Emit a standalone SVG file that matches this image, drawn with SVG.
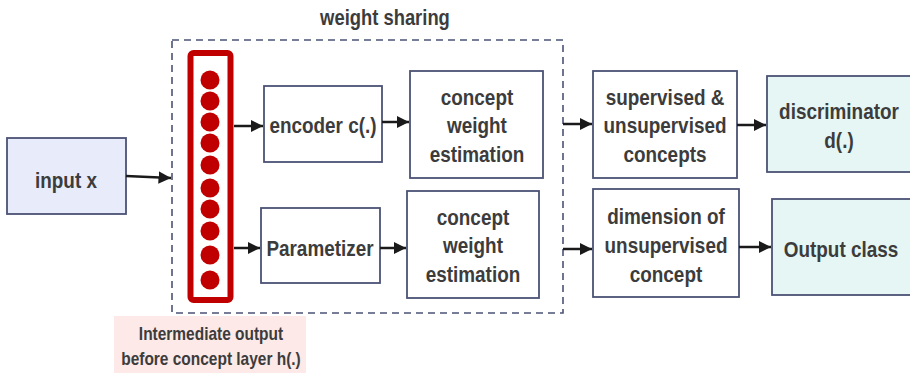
<svg xmlns="http://www.w3.org/2000/svg" width="910" height="373" viewBox="0 0 910 373">
<defs>
<marker id="ah" viewBox="0 0 10 10" refX="10" refY="5" markerWidth="5" markerHeight="5" markerUnits="strokeWidth" orient="auto">
<path d="M0,0 L10,5 L0,10 z" fill="#1a1a1a"/>
</marker>
<style>
.box{fill:#ffffff;stroke:#4b5275;stroke-width:1.8}
.blue{fill:#e8ebfa}
.cyan{fill:#e6f6f4}
.t{font-family:"Liberation Sans",Arial,sans-serif;font-weight:bold;font-size:22px;fill:#3c3c3c;text-anchor:middle}
.s{font-size:18px}
.conn line{stroke:#1a1a1a;stroke-width:2.5;marker-end:url(#ah)}
</style>
</defs>
<rect width="910" height="373" fill="#ffffff"/>

<g id="weight-sharing">
<rect x="172" y="40" width="391" height="273" fill="none" stroke="#4b5275" stroke-width="1.6" stroke-dasharray="7,5"/>
<text class="t" transform="scale(0.86 1)" x="447.67" y="25" style="font-size:21.4px">weight sharing</text>
</g>

<g id="input">
<rect class="box blue" x="7" y="138" width="119" height="76"/>
<text class="t" transform="scale(0.86 1)" x="76.74" y="188">input x</text>
</g>

<g id="hidden">
<rect x="190.5" y="53" width="40" height="247" rx="3" fill="#ffffff" stroke="#c00000" stroke-width="6"/>
<g fill="#c00000">
<circle cx="210" cy="80" r="9.5"/>
<circle cx="210" cy="101" r="9.5"/>
<circle cx="210" cy="122" r="9.5"/>
<circle cx="210" cy="143" r="9.5"/>
<circle cx="210" cy="165" r="9.5"/>
<circle cx="210" cy="188" r="9.5"/>
<circle cx="210" cy="209" r="9.5"/>
<circle cx="210" cy="231" r="9.5"/>
<circle cx="210" cy="255" r="9.5"/>
<circle cx="210" cy="280" r="9.5"/>
</g>
</g>

<g id="label-h">
<rect x="114" y="316" width="192" height="57" fill="#fde9e8"/>
<text class="t s" transform="scale(0.86 1)" x="245.35" y="340">Intermediate output</text>
<text class="t s" transform="scale(0.86 1)" x="245.35" y="365">before concept layer h(.)</text>
</g>

<g id="encoder">
<rect class="box" x="264" y="86" width="118" height="76"/>
<text class="t" transform="scale(0.86 1)" x="375.58" y="133">encoder c(.)</text>
</g>

<g id="concept-top">
<rect class="box" x="410" y="71" width="133" height="107"/>
<text class="t" transform="scale(0.86 1)" x="554.65" y="105">concept</text>
<text class="t" transform="scale(0.86 1)" x="554.65" y="133">weight</text>
<text class="t" transform="scale(0.86 1)" x="554.65" y="162">estimation</text>
</g>

<g id="parametizer">
<rect class="box" x="261" y="208" width="119" height="75"/>
<text class="t" transform="scale(0.86 1)" x="372.09" y="256">Parametizer</text>
</g>

<g id="concept-bottom">
<rect class="box" x="407" y="191" width="132" height="107"/>
<text class="t" transform="scale(0.86 1)" x="550" y="225">concept</text>
<text class="t" transform="scale(0.86 1)" x="550" y="253">weight</text>
<text class="t" transform="scale(0.86 1)" x="550" y="282">estimation</text>
</g>

<g id="supervised">
<rect class="box" x="593" y="71" width="144" height="107"/>
<text class="t" transform="scale(0.86 1)" x="773.26" y="105">supervised &amp;</text>
<text class="t" transform="scale(0.86 1)" x="773.26" y="133">unsupervised</text>
<text class="t" transform="scale(0.86 1)" x="773.26" y="162">concepts</text>
</g>

<g id="dimension">
<rect class="box" x="593" y="189" width="146" height="108"/>
<text class="t" transform="scale(0.86 1)" x="774.42" y="224">dimension of</text>
<text class="t" transform="scale(0.86 1)" x="774.42" y="253">unsupervised</text>
<text class="t" transform="scale(0.86 1)" x="774.42" y="282">concept</text>
</g>

<g id="discriminator">
<rect class="box cyan" x="767" y="76" width="150" height="96"/>
<text class="t" transform="scale(0.86 1)" x="975.58" y="119">discriminator</text>
<text class="t" transform="scale(0.86 1)" x="975.58" y="148">d(.)</text>
</g>

<g id="output">
<rect class="box cyan" x="772" y="199" width="150" height="96"/>
<text class="t" transform="scale(0.86 1)" x="977.91" y="257">Output class</text>
</g>

<g id="connectors" class="conn">
<line x1="126" y1="176" x2="171" y2="178"/>
<line x1="234" y1="126" x2="263" y2="126"/>
<line x1="382" y1="122" x2="409" y2="122"/>
<line x1="234" y1="248" x2="260" y2="248"/>
<line x1="380" y1="248" x2="406" y2="248"/>
<line x1="563" y1="124" x2="592" y2="124"/>
<line x1="737" y1="125" x2="766" y2="125"/>
<line x1="563" y1="249" x2="592" y2="249"/>
<line x1="739" y1="247" x2="771" y2="247"/>
</g>
</svg>
